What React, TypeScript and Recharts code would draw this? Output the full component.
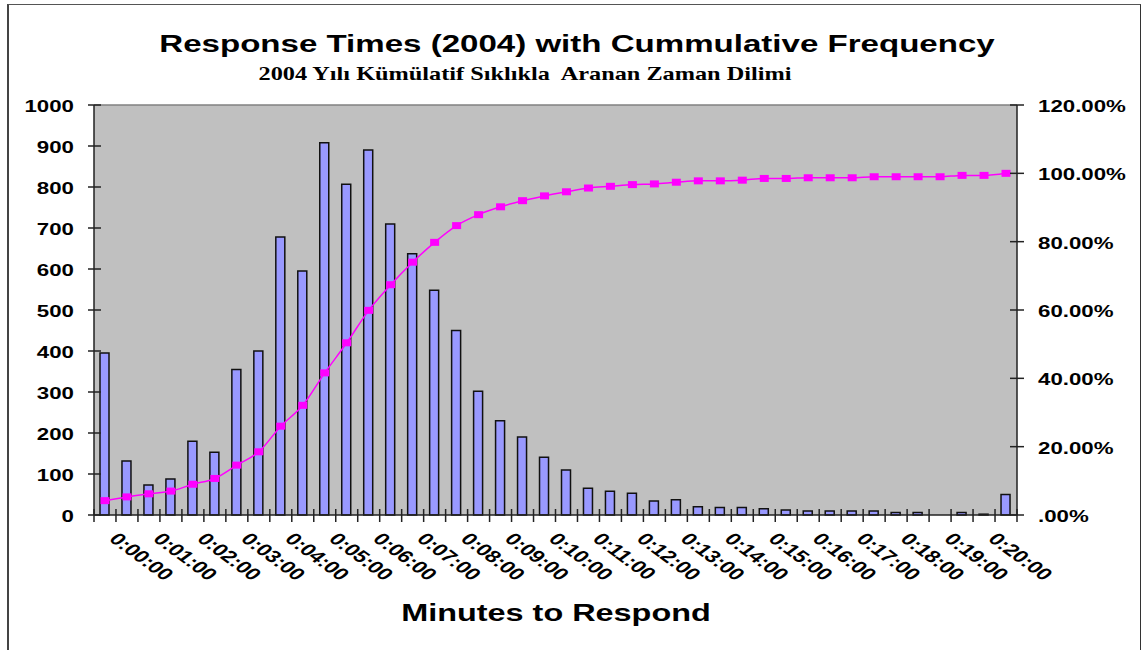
import React from "react";
import {
  Bar,
  CartesianGrid,
  ComposedChart,
  Line,
  ReferenceLine,
  XAxis,
  YAxis,
} from "recharts";

// the source image is stretched sideways, so text gets the same stretch
const SX = 1.35;
const PLOT_LEFT = 94;
const PLOT_RIGHT = 1017;
const PLOT_TOP = 105;
const AXIS_Y = 515;

const categories = [
  "0:00:00", "0:00:30", "0:01:00", "0:01:30", "0:02:00", "0:02:30",
  "0:03:00", "0:03:30", "0:04:00", "0:04:30", "0:05:00", "0:05:30",
  "0:06:00", "0:06:30", "0:07:00", "0:07:30", "0:08:00", "0:08:30",
  "0:09:00", "0:09:30", "0:10:00", "0:10:30", "0:11:00", "0:11:30",
  "0:12:00", "0:12:30", "0:13:00", "0:13:30", "0:14:00", "0:14:30",
  "0:15:00", "0:15:30", "0:16:00", "0:16:30", "0:17:00", "0:17:30",
  "0:18:00", "0:18:30", "0:19:00", "0:19:30", "0:20:00", "0:20:30",
];

const counts = [
  395, 132, 73, 88, 180, 153, 355, 400, 678, 595, 908, 807,
  890, 710, 637, 548, 450, 302, 230, 190, 141, 110, 65, 58,
  53, 34, 37, 20, 18, 18, 15, 12, 10, 10, 10, 10,
  6, 6, 0, 6, 2, 50,
];

const cumulative = [
  4.2, 5.3, 6.2, 7.0, 9.0, 10.7, 14.6, 18.5, 26.0, 32.1, 41.6, 50.4,
  59.9, 67.4, 74.0, 79.8, 84.7, 87.9, 90.2, 92.0, 93.4, 94.6, 95.7, 96.2,
  96.7, 96.9, 97.4, 97.8, 97.8, 98.0, 98.5, 98.5, 98.7, 98.7, 98.7, 99.0,
  99.0, 99.0, 99.0, 99.4, 99.4, 100,
];

const countTicks = [0, 100, 200, 300, 400, 500, 600, 700, 800, 900, 1000];
const percentTicks = [0, 20, 40, 60, 80, 100, 120];

const data = categories.map((c, i) => ({
  time: c,
  count: counts[i],
  cum: cumulative[i],
}));

const BAND = (PLOT_RIGHT - PLOT_LEFT) / categories.length;
const AXIS_COLOR = "#222";
const SANS = "'Liberation Sans', Arial, sans-serif";

const fmtPercent = (v: number) => (v === 0 ? ".00%" : v.toFixed(2) + "%");

const XTick = (props: any) => {
  const { x, index, payload } = props;
  const half = BAND / 2;
  return (
    <g>
      <line x1={x - half} x2={x - half} y1={AXIS_Y - 6} y2={AXIS_Y + 7} stroke={AXIS_COLOR} strokeWidth={1.5} />
      {index === categories.length - 1 && (
        <line x1={x + half} x2={x + half} y1={AXIS_Y - 6} y2={AXIS_Y + 7} stroke={AXIS_COLOR} strokeWidth={1.5} />
      )}
      {index % 2 === 0 && (
        <g transform={`translate(${x + 3},${AXIS_Y + 25}) scale(${SX},1) rotate(45)`}>
          <text x={0} y={0} fontSize={17} fontWeight="bold" fontFamily={SANS} fill="#000">
            {payload.value}
          </text>
        </g>
      )}
    </g>
  );
};

const LeftTick = (props: any) => {
  const { y, payload } = props;
  return (
    <g>
      <line x1={PLOT_LEFT - 6} x2={PLOT_LEFT + 7} y1={y} y2={y} stroke={AXIS_COLOR} strokeWidth={1.5} />
      <g transform={`translate(${PLOT_LEFT - 20},${y + 7}) scale(${SX},1)`}>
        <text textAnchor="end" fontSize={16.5} fontWeight="bold" fontFamily={SANS} fill="#000">
          {payload.value}
        </text>
      </g>
    </g>
  );
};

const RightTick = (props: any) => {
  const { y, payload } = props;
  return (
    <g>
      <line x1={PLOT_RIGHT - 7} x2={PLOT_RIGHT + 7} y1={y} y2={y} stroke={AXIS_COLOR} strokeWidth={1.5} />
      <g transform={`translate(${PLOT_RIGHT + 21},${y + 7}) scale(${SX},1)`}>
        <text textAnchor="start" fontSize={16.5} fontWeight="bold" fontFamily={SANS} fill="#000">
          {fmtPercent(payload.value)}
        </text>
      </g>
    </g>
  );
};

const squareDot = (props: any) => {
  const { cx, cy, index } = props;
  if (cx == null || cy == null) return <g key={index} />;
  return <rect key={index} x={cx - 4.5} y={cy - 3.5} width={9} height={7} fill="#ff00ff" />;
};

export default function App() {
  return (
    <div
      style={{
        position: "absolute",
        left: 0,
        top: 0,
        width: 1144,
        height: 650,
        background: "#fff",
        overflow: "hidden",
      }}
    >
      {/* frame round the picture, open at the bottom */}
      <div
        style={{
          position: "absolute",
          left: 7,
          top: 4,
          width: 1131,
          height: 700,
          borderLeft: "2px solid #444",
          borderTop: "1px solid #555",
          borderRight: "1px solid #333",
        }}
      />

      <svg
        width={1144}
        height={650}
        style={{ position: "absolute", left: 0, top: 0, pointerEvents: "none" }}
      >
        <g transform={`translate(577,52) scale(${SX},1)`}>
          <text textAnchor="middle" fontSize={24.5} fontWeight="bold" fontFamily={SANS} fill="#000">
            Response Times (2004) with Cummulative Frequency
          </text>
        </g>
        <g transform={`translate(525,80) scale(${SX},1)`}>
          <text
            textAnchor="middle"
            fontSize={18}
            fontWeight="bold"
            fontFamily="'Liberation Serif', 'Times New Roman', serif"
            fill="#000"
            style={{ whiteSpace: "pre" }}
          >
            2004 Yılı Kümülatif Sıklıkla  Aranan Zaman Dilimi
          </text>
        </g>
        <g transform={`translate(556,621) scale(${SX},1)`}>
          <text textAnchor="middle" fontSize={24} fontWeight="bold" fontFamily={SANS} fill="#000">
            Minutes to Respond
          </text>
        </g>
      </svg>

      <div style={{ position: "absolute", left: 0, top: 0 }}>
        <ComposedChart
          width={1144}
          height={650}
          data={data}
          margin={{ top: PLOT_TOP, right: 0, bottom: 0, left: 0 }}
          barCategoryGap={0}
        >
          <CartesianGrid
            yAxisId="left"
            fill="#c0c0c0"
            horizontal={false}
            vertical={false}
            stroke="none"
          />
          <XAxis
            dataKey="time"
            height={650 - AXIS_Y}
            interval={0}
            tickLine={false}
            axisLine={{ stroke: AXIS_COLOR, strokeWidth: 1.5 }}
            tick={<XTick />}
          />
          <YAxis
            yAxisId="left"
            orientation="left"
            width={PLOT_LEFT}
            domain={[0, 1000]}
            ticks={countTicks}
            interval={0}
            tickLine={false}
            axisLine={{ stroke: AXIS_COLOR, strokeWidth: 1.5 }}
            tick={<LeftTick />}
          />
          <YAxis
            yAxisId="right"
            orientation="right"
            width={1144 - PLOT_RIGHT}
            domain={[0, 120]}
            ticks={percentTicks}
            interval={0}
            tickLine={false}
            axisLine={{ stroke: AXIS_COLOR, strokeWidth: 1.5 }}
            tick={<RightTick />}
          />
          <ReferenceLine yAxisId="left" y={1000} stroke="#808080" strokeWidth={1.5} />
          <Bar
            yAxisId="left"
            dataKey="count"
            fill="#9999ff"
            stroke="#111"
            strokeWidth={1.5}
            barSize={9}
            isAnimationActive={false}
          />
          <Line
            yAxisId="right"
            type="monotone"
            dataKey="cum"
            stroke="#ff00ff"
            strokeWidth={1.5}
            dot={squareDot}
            activeDot={false}
            isAnimationActive={false}
          />
        </ComposedChart>
      </div>
    </div>
  );
}
